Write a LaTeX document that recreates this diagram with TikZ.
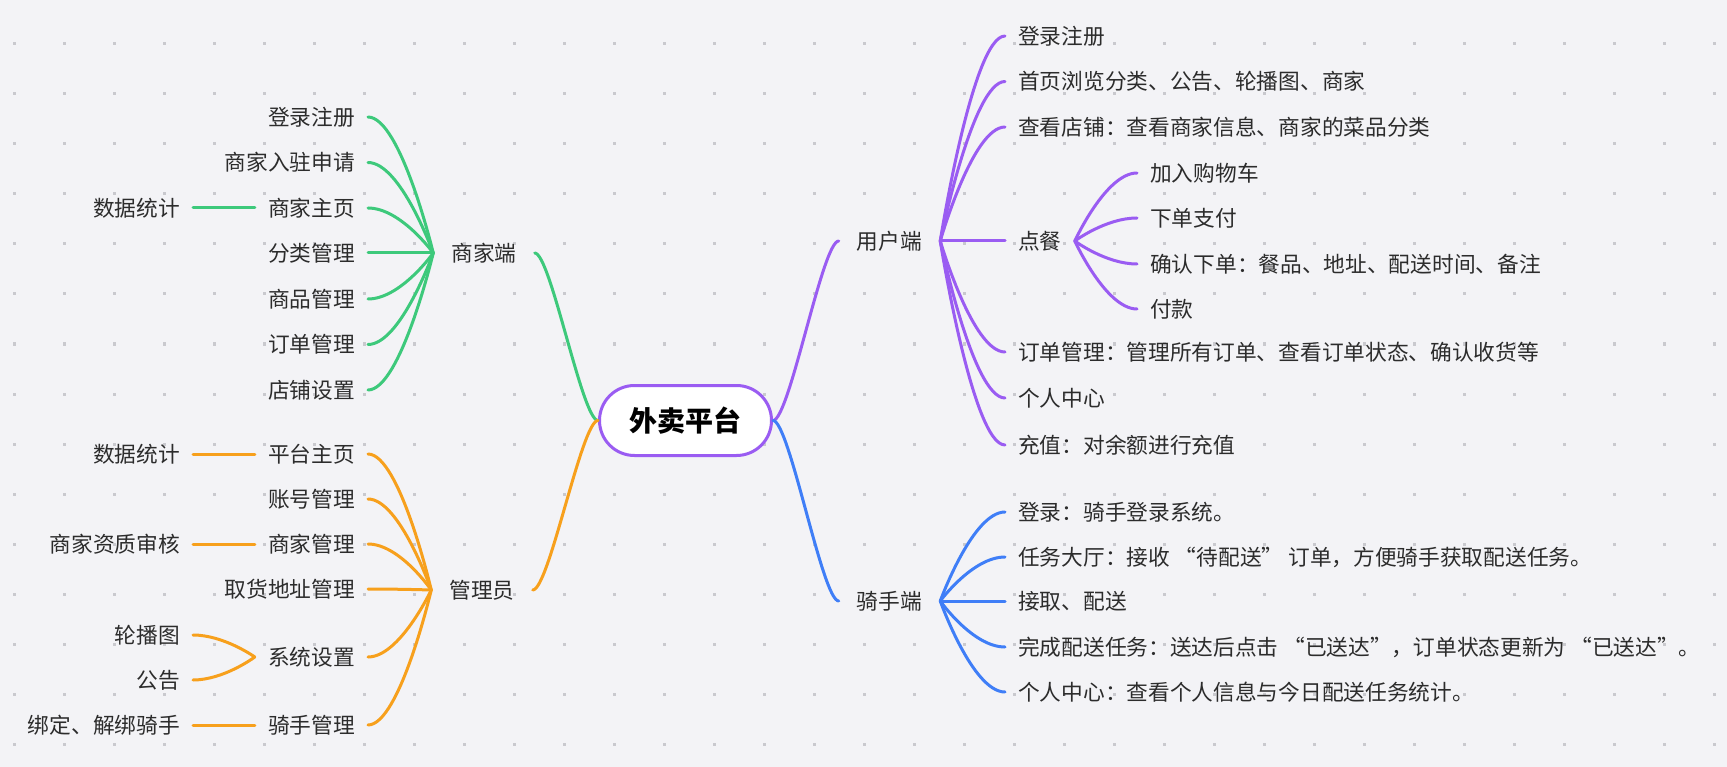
\documentclass[tikz,border=0pt]{standalone}
\usepackage{fontspec}
\setmainfont{Noto Sans CJK SC}
\usetikzlibrary{calc}
\definecolor{bgc}{HTML}{F3F3F6}
\definecolor{dotc}{HTML}{C9C9CE}
\definecolor{txtc}{HTML}{2C2C2C}
\definecolor{mgreen}{HTML}{3DC97B}
\definecolor{morange}{HTML}{F7A01C}
\definecolor{mpurple}{HTML}{9A5CF2}
\definecolor{mblue}{HTML}{3F7EF7}
\begin{document}
\begin{tikzpicture}[x=1pt, y=-1pt,
    leaf/.style={font=\fontsize{21.7}{26}\selectfont, text=txtc, inner ysep=0pt, inner xsep=13pt, text height=18.6pt, text depth=2.2pt},
    hub/.style={leaf, inner xsep=18pt},
    trunk/.style={to path={.. controls ($(\tikztostart)!0.25!(\tikztotarget |- \tikztostart)$) and ($(\tikztotarget)!0.25!(\tikztostart |- \tikztotarget)$) .. (\tikztotarget)}},
    twig/.style={to path={.. controls (\tikztostart) and ($(\tikztotarget)!0.5!(\tikztostart |- \tikztotarget)$) .. (\tikztotarget)}},
    limb/.style={line width=3pt, line cap=round}]
  \fill[bgc] (0,0) rectangle (1727,767);
  \foreach \i in {0,...,34} \foreach \j in {0,...,14}
    \fill[dotc] (12.5+50*\i,42.5+50*\j) rectangle ++(3,3);

  \node[draw=mpurple, line width=3pt, fill=white, rounded corners=35pt, minimum width=172pt, minimum height=70pt,
    inner sep=0pt, text height=24pt, text depth=3pt, font=\fontsize{28}{32}\selectfont\bfseries] (root) at (685.5,420.5) {外卖平台};

  \node[hub] (mer) at (484,253) {商家端};
  \node[hub] (adm) at (482,590) {管理员};
  \node[hub] (usr) at (889.5,241) {用户端};
  \node[hub] (rid) at (889.5,601) {骑手端};

  \node[leaf, anchor=east] (m1) at (368,117) {登录注册};
  \node[leaf, anchor=east] (m2) at (368,162.5) {商家入驻申请};
  \node[leaf, anchor=east] (m3) at (368,208) {商家主页};
  \node[leaf, anchor=east] (m4) at (368,253) {分类管理};
  \node[leaf, anchor=east] (m5) at (368,299) {商品管理};
  \node[leaf, anchor=east] (m6) at (368,344.5) {订单管理};
  \node[leaf, anchor=east] (m7) at (368,390) {店铺设置};
  \node[leaf, anchor=east] (mk) at (193,208) {数据统计};

  \node[leaf, anchor=east] (a1) at (368,454) {平台主页};
  \node[leaf, anchor=east] (a2) at (368,499) {账号管理};
  \node[leaf, anchor=east] (a3) at (368,544) {商家管理};
  \node[leaf, anchor=east] (a4) at (368,589) {取货地址管理};
  \node[leaf, anchor=east] (a5) at (368,657) {系统设置};
  \node[leaf, anchor=east] (a6) at (368,725) {骑手管理};
  \node[leaf, anchor=east] (ak1) at (193,454) {数据统计};
  \node[leaf, anchor=east] (ak3) at (193,544) {商家资质审核};
  \node[leaf, anchor=east] (ak51) at (193,635) {轮播图};
  \node[leaf, anchor=east] (ak52) at (193,680) {公告};
  \node[leaf, anchor=east] (ak6) at (193,725) {绑定、解绑骑手};

  \node[leaf, anchor=west] (u1) at (1005,36) {登录注册};
  \node[leaf, anchor=west] (u2) at (1005,81.5) {首页浏览分类、公告、轮播图、商家};
  \node[leaf, anchor=west] (u3) at (1005,127) {查看店铺：查看商家信息、商家的菜品分类};
  \node[leaf, anchor=west] (u4) at (1005,241) {点餐};
  \node[leaf, anchor=west] (u5) at (1005,352) {订单管理：管理所有订单、查看订单状态、确认收货等};
  \node[leaf, anchor=west] (u6) at (1005,398) {个人中心};
  \node[leaf, anchor=west] (u7) at (1005,445) {充值：对余额进行充值};
  \node[leaf, anchor=west] (o1) at (1137,173) {加入购物车};
  \node[leaf, anchor=west] (o2) at (1137,218) {下单支付};
  \node[leaf, anchor=west] (o3) at (1137,264) {确认下单：餐品、地址、配送时间、备注};
  \node[leaf, anchor=west] (o4) at (1137,309) {付款};

  \node[leaf, anchor=west] (r1) at (1005,512) {登录：骑手登录系统。};
  \node[leaf, anchor=west] (r2) at (1005,557) {任务大厅：接收 “待配送” 订单，方便骑手获取配送任务。};
  \node[leaf, anchor=west] (r3) at (1005,601) {接取、配送};
  \node[leaf, anchor=west] (r4) at (1005,647) {完成配送任务：送达后点击 “已送达”，订单状态更新为 “已送达”。};
  \node[leaf, anchor=west] (r5) at (1005,692) {个人中心：查看个人信息与今日配送任务统计。};

  \draw[limb, mgreen] (root.west) to[trunk] (mer.east);
  \foreach \n in {1,...,7} \draw[limb, mgreen] (mer.west) to[twig] (m\n.east);
  \draw[limb, mgreen] (mk.east) -- (m3.west);

  \draw[limb, morange] (root.west) to[trunk] (adm.east);
  \foreach \n in {1,...,6} \draw[limb, morange] (adm.west) to[twig] (a\n.east);
  \draw[limb, morange] (ak1.east) -- (a1.west);
  \draw[limb, morange] (ak3.east) -- (a3.west);
  \draw[limb, morange] (a5.west) to[twig] (ak51.east);
  \draw[limb, morange] (a5.west) to[twig] (ak52.east);
  \draw[limb, morange] (ak6.east) -- (a6.west);

  \draw[limb, mpurple] (root.east) to[trunk] (usr.west);
  \foreach \n in {1,...,7} \draw[limb, mpurple] (usr.east) to[twig] (u\n.west);
  \foreach \n in {1,...,4} \draw[limb, mpurple] (u4.east) to[twig] (o\n.west);

  \draw[limb, mblue] (root.east) to[trunk] (rid.west);
  \foreach \n in {1,...,5} \draw[limb, mblue] (rid.east) to[twig] (r\n.west);
\end{tikzpicture}
\end{document}
